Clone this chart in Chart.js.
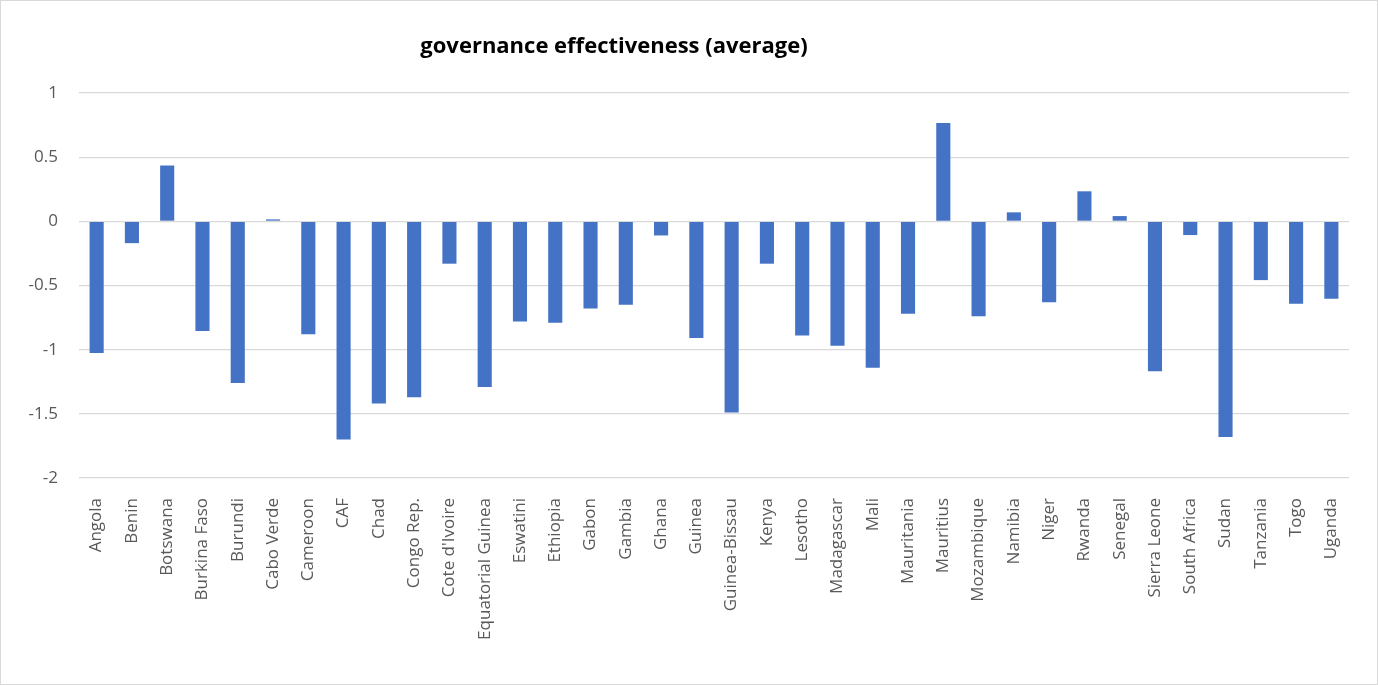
<!DOCTYPE html>
<html>
<head>
<meta charset="utf-8">
<script src="https://cdn.jsdelivr.net/npm/chart.js@4"></script>
<style>
  body { margin: 0; background: #fff; }
  #frame { width: 1376px; height: 683px; border: 1px solid #d9d9d9; }
</style>
</head>
<body>
<div id="frame"><canvas id="chart" width="1376" height="683"></canvas></div>
<script>
const countries = [
  'Angola', 'Benin', 'Botswana', 'Burkina Faso', 'Burundi', 'Cabo Verde',
  'Cameroon', 'CAF', 'Chad', 'Congo Rep.', "Cote d'Ivoire", 'Equatorial Guinea',
  'Eswatini', 'Ethiopia', 'Gabon', 'Gambia', 'Ghana', 'Guinea', 'Guinea-Bissau',
  'Kenya', 'Lesotho', 'Madagascar', 'Mali', 'Mauritania', 'Mauritius',
  'Mozambique', 'Namibia', 'Niger', 'Rwanda', 'Senegal', 'Sierra Leone',
  'South Africa', 'Sudan', 'Tanzania', 'Togo', 'Uganda'
];

const effectiveness = [
  -1.025, -0.17, 0.435, -0.855, -1.26, 0.015,
  -0.88, -1.70, -1.42, -1.37, -0.33, -1.29,
  -0.78, -0.79, -0.68, -0.65, -0.11, -0.91, -1.49,
  -0.33, -0.89, -0.97, -1.14, -0.72, 0.767,
  -0.74, 0.07, -0.63, 0.234, 0.041, -1.168,
  -0.107, -1.68, -0.458, -0.643, -0.604
];

const yTicks = [1, 0.5, 0, -0.5, -1, -1.5, -2];

const chartTitle = 'governance effectiveness (average)';

const labelFont = { family: "'Open Sans', sans-serif", size: 17 };

// title sits a little left of the canvas centre, so it is drawn by hand
const titlePlugin = {
  id: 'sideTitle',
  afterDraw(chart) {
    const ctx = chart.ctx;
    ctx.save();
    ctx.font = "bold 22px 'Open Sans', sans-serif";
    ctx.fillStyle = '#000';
    ctx.textAlign = 'center';
    ctx.textBaseline = 'middle';
    ctx.fillText(chartTitle, 613, 46);
    ctx.restore();
  }
};

new Chart(document.getElementById('chart'), {
  type: 'bar',
  plugins: [titlePlugin],
  data: {
    labels: countries,
    datasets: [{
      data: effectiveness,
      backgroundColor: '#4472c4',
      categoryPercentage: 1,
      barPercentage: 0.4,
    }]
  },
  options: {
    responsive: false,
    animation: false,
    layout: {
      padding: { top: 92, left: 0, right: 28, bottom: 0 }
    },
    scales: {
      x: {
        grid: { display: false },
        border: { display: false },
        ticks: {
          color: '#595959',
          font: labelFont,
          minRotation: 90,
          maxRotation: 90,
          autoSkip: false,
          padding: 12,
        },
        afterFit: (scale) => { scale.height = 206; },
      },
      y: {
        min: -2,
        max: 1,
        grid: { color: '#d9d9d9', lineWidth: 1.3, drawTicks: false },
        border: { display: false },
        ticks: {
          stepSize: 0.5,
          color: '#595959',
          font: labelFont,
          padding: 21,
          callback: (v) => yTicks.includes(v) ? String(v) : '',
        },
        afterFit: (scale) => { scale.width = 78; },
      },
    },
    plugins: {
      legend: { display: false },
      tooltip: { enabled: false },
      title: { display: false },
    },
  },
});
</script>
</body>
</html>
